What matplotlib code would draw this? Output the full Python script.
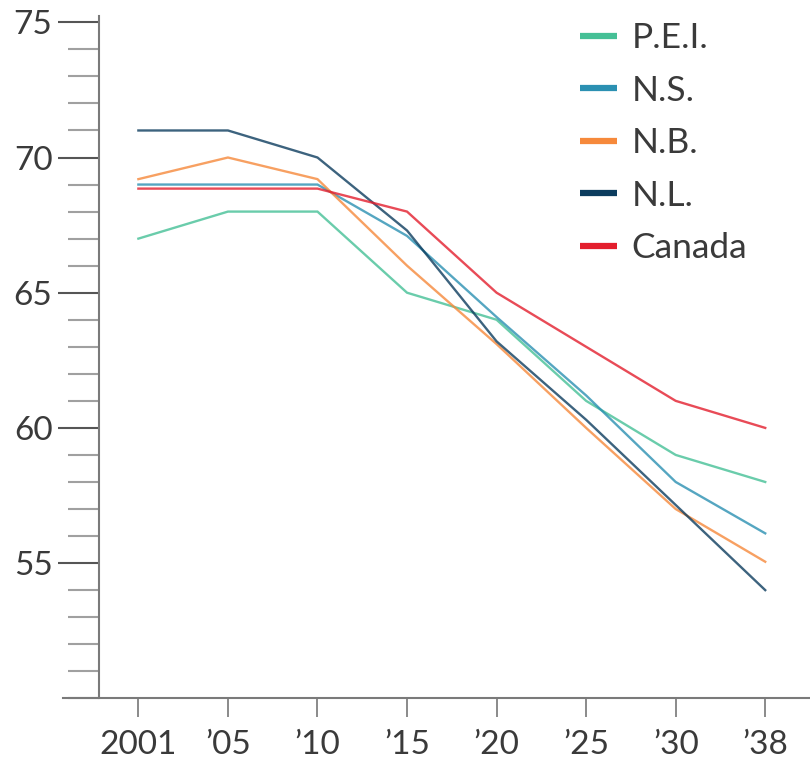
import matplotlib
matplotlib.use("Agg")
import matplotlib.pyplot as plt
from matplotlib.lines import Line2D
from matplotlib.ticker import MultipleLocator

# data
years = ["2001", "\u201905", "\u201910", "\u201915", "\u201920", "\u201925", "\u201930", "\u201938"]
pei = [67.0, 68.0, 68.0, 65.0, 64.0, 61.0, 59.0, 58.0]
ns = [69.0, 69.0, 69.0, 67.1, 64.1, 61.2, 58.0, 56.1]
nb = [69.2, 70.0, 69.2, 66.0, 63.1, 60.0, 57.0, 55.05]
nl = [71.0, 71.0, 70.0, 67.3, 63.2, 60.3, 57.15, 54.0]
canada = [68.85, 68.85, 68.85, 68.0, 65.0, 63.0, 61.0, 60.0]

names = ["P.E.I.", "N.S.", "N.B.", "N.L.", "Canada"]
series = [pei, ns, nb, nl, canada]
colors = ["#45c096", "#2b90b2", "#f6893b", "#0c3c5e", "#e31e2d"]

plt.rcParams['font.family'] = ['Lato', 'DejaVu Sans']
txt = "#3a3a3a"

fig = plt.figure(figsize=(8.1, 7.59), dpi=100)
ax = fig.add_axes([0.1222, 0.0800, 0.8778, 0.8995])

x = list(range(len(years)))
for vals, c in zip(series, colors):
    ax.plot(x, vals, color=c, lw=1.7, alpha=0.8, solid_joinstyle='miter')

ax.set_xlim(-0.44, 7.5)
ax.set_ylim(50, 75.25)

for s in ["top", "right"]:
    ax.spines[s].set_visible(False)
for s in ["left", "bottom"]:
    ax.spines[s].set_color("#7a7a7a")
    ax.spines[s].set_linewidth(1.5)
ax.spines["bottom"].set_bounds(-0.845, 7.5)

ax.set_xticks(x)
ax.set_xticklabels(years)
ax.yaxis.set_major_locator(MultipleLocator(5))
ax.yaxis.set_minor_locator(MultipleLocator(1))
ax.set_yticks([55, 60, 65, 70, 75])

ax.tick_params(axis="y", which="major", length=29.5, width=1.5, color="#555555",
               labelsize=24, labelcolor=txt, pad=4)
ax.tick_params(axis="y", which="minor", length=22, width=1.5, color="#a0a0a0")
ax.tick_params(axis="x", length=14, width=1.2, color="#777777",
               labelsize=24, labelcolor=txt, pad=9)

handles = [Line2D([], [], color=c, lw=4.5, solid_capstyle='butt') for c in colors]
fig.legend(handles, names, loc="upper left", bbox_to_anchor=(0.716, 0.971),
           frameon=False, fontsize=25.5, labelcolor=txt, handlelength=1.05,
           handletextpad=0.4, labelspacing=0.58, borderpad=0, borderaxespad=0)

fig.savefig("out.png", dpi=100)
plt.close()
